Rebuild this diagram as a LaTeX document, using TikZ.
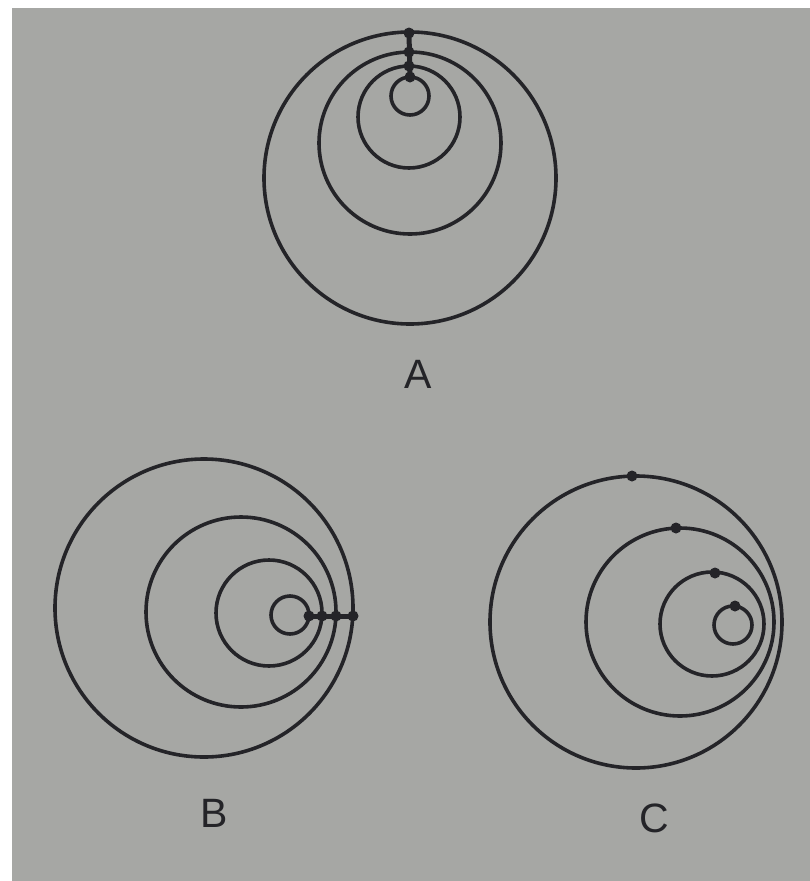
\documentclass[tikz,border=0pt]{standalone}
\usepackage{fontspec}
\setmainfont{Liberation Sans}
\definecolor{paper}{RGB}{166,167,164}
\definecolor{ink}{RGB}{36,36,40}
\tikzset{
  orbit/.style={draw=ink, line width=3.6pt},
  stem/.style={draw=ink, line width=5pt},
  pt/.style={circle, fill=ink, inner sep=0pt, minimum size=11pt},
  lbl/.style={font=\fontsize{41}{44}\selectfont, text=ink, inner sep=0pt}
}
\begin{document}
\begin{tikzpicture}[x=1pt,y=-1pt]
\useasboundingbox (0,0) rectangle (810,881);
\fill[white] (0,0) rectangle (810,881);
\fill[paper] (12,8) rectangle (810,881);
% ---- A ----
\draw[orbit] (410,178) circle (146);
\draw[orbit] (410,143) circle (91);
\draw[orbit] (409,117) circle (51);
\draw[orbit] (410,96) circle (19);
\node[pt] (a1) at (409,33) {};
\node[pt] (a2) at (409,52) {};
\node[pt] (a3) at (409,66) {};
\node[pt] (a4) at (410,77) {};
\draw[stem] (a1.center) -- (a4.center);
\node[lbl] (la) at (418,374) {A};
% ---- B ----
\draw[orbit] (204,608) circle (149);
\draw[orbit] (241,612) circle (95);
\draw[orbit] (269,613) circle (53);
\draw[orbit] (290,615) circle (19);
\node[pt] (b1) at (309,616) {};
\node[pt] (b2) at (322,616) {};
\node[pt] (b3) at (336,616) {};
\node[pt] (b4) at (353,616) {};
\draw[stem] (b1.center) -- (b4.center);
\node[lbl] (lb) at (214,813) {B};
% ---- C ----
\draw[orbit] (636,622) circle (146);
\draw[orbit] (680,622) circle (94);
\draw[orbit] (712,624) circle (52);
\draw[orbit] (733,625) circle (19);
\node[pt] (c1) at (632,476) {};
\node[pt] (c2) at (676,528) {};
\node[pt] (c3) at (715,573) {};
\node[pt] (c4) at (735,606) {};
\node[lbl] (lc) at (654,818) {C};
\end{tikzpicture}
\end{document}
